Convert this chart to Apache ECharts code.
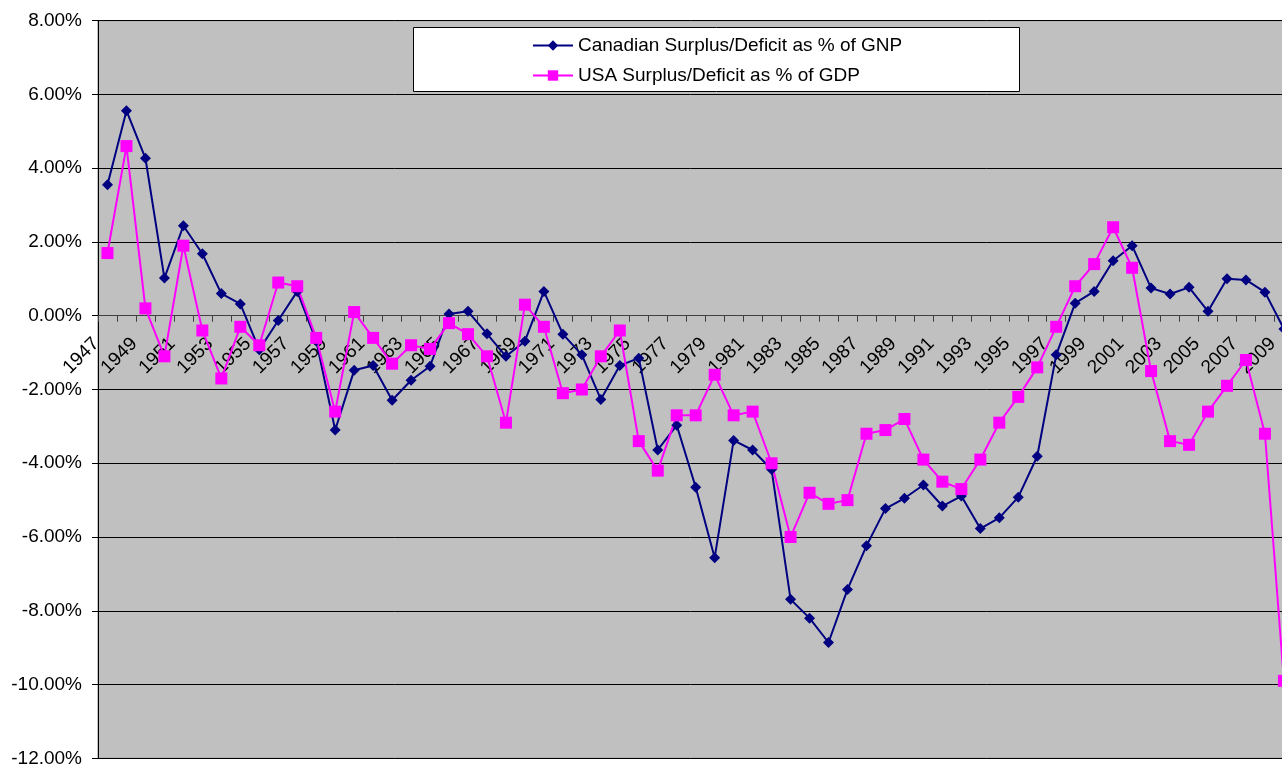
<!DOCTYPE html>
<html>
<head>
<meta charset="utf-8">
<script src="https://cdn.jsdelivr.net/npm/echarts@6/dist/echarts.min.js"></script>
<style>
html,body{margin:0;padding:0;background:#fff;}
#chart{width:1282px;height:766px;}
</style>
</head>
<body>
<div id="chart"></div>
<script>
var years = ['1947','1948','1949','1950','1951','1952','1953','1954','1955','1956','1957','1958','1959',
  '1960','1961','1962','1963','1964','1965','1966','1967','1968','1969','1970','1971','1972','1973','1974',
  '1975','1976','1977','1978','1979','1980','1981','1982','1983','1984','1985','1986','1987','1988','1989',
  '1990','1991','1992','1993','1994','1995','1996','1997','1998','1999','2000','2001','2002','2003','2004',
  '2005','2006','2007','2008','2009'];

var canadaName = 'Canadian Surplus/Deficit as % of GNP';
var usaName = 'USA Surplus/Deficit as % of GDP';

var canada = [3.55, 5.56, 4.27, 1.02, 2.44, 1.68, 0.60, 0.32, -0.92, -0.13, 0.66, -0.68, -3.10,
  -1.48, -1.35, -2.29, -1.75, -1.37, 0.05, 0.12, -0.49, -1.10, -0.69, 0.66, -0.50, -1.06, -2.27, -1.35,
  -1.15, -3.64, -2.97, -4.65, -6.56, -3.38, -3.64, -4.17, -7.69, -8.20, -8.86, -7.42, -6.24, -5.23, -4.95,
  -4.59, -5.16, -4.89, -5.77, -5.48, -4.92, -3.81, -1.06, 0.34, 0.66, 1.49, 1.90, 0.75, 0.59, 0.77,
  0.12, 1.00, 0.97, 0.64, -0.36];

var usa = [1.70, 4.60, 0.20, -1.10, 1.90, -0.40, -1.70, -0.30, -0.80, 0.90, 0.80, -0.60, -2.60,
  0.10, -0.60, -1.30, -0.80, -0.90, -0.20, -0.50, -1.10, -2.90, 0.30, -0.30, -2.10, -2.00, -1.10, -0.40,
  -3.40, -4.20, -2.70, -2.70, -1.60, -2.70, -2.60, -4.00, -6.00, -4.80, -5.10, -5.00, -3.20, -3.10, -2.80,
  -3.90, -4.50, -4.70, -3.90, -2.90, -2.20, -1.40, -0.30, 0.80, 1.40, 2.40, 1.30, -1.50, -3.40, -3.50,
  -2.60, -1.90, -1.20, -3.20, -9.90];

var yMin = -12, yMax = 8, yStep = 2;

var FONT = '"Liberation Sans", Arial, sans-serif';
var gridTop = 20.7, gridHeight = 737.6;
// distance from the grid bottom up to the zero line
var zeroOffset = gridHeight * (0 - yMin) / (yMax - yMin);

var chart = echarts.init(document.getElementById('chart'), null, {renderer: 'canvas'});
chart.setOption({
  animation: false,
  backgroundColor: '#ffffff',
  textStyle: {fontFamily: FONT},
  grid: {
    left: 98, top: gridTop, width: 1195.4, height: gridHeight,
    show: true, backgroundColor: '#C0C0C0', borderColor: '#808080', borderWidth: 1,
    containLabel: false, outerBoundsMode: 'none'
  },
  graphic: [{
    type: 'rect', left: 413, top: 27, z: 3,
    shape: {width: 606, height: 64},
    style: {fill: '#ffffff', stroke: '#000000', lineWidth: 1}
  }],
  legend: {
    orient: 'vertical', left: 527, top: 31, z: 5,
    itemWidth: 40, itemHeight: 13, itemGap: 11,
    textStyle: {fontFamily: FONT, fontSize: 19, color: '#000'},
    data: [canadaName, usaName]
  },
  xAxis: {
    type: 'category', data: years, boundaryGap: true, position: 'bottom',
    offset: -zeroOffset,
    axisLine: {onZero: false, lineStyle: {color: '#404040', width: 1}},
    axisTick: {show: true, interval: 0, length: 6, lineStyle: {color: '#404040'}},
    axisLabel: {
      interval: 1, rotate: 45, margin: 14, fontSize: 19, color: '#000', fontFamily: FONT,
      formatter: function (v) { return v + '   '; }
    },
    splitLine: {show: false}
  },
  yAxis: {
    type: 'value', min: yMin, max: yMax, interval: yStep,
    axisLine: {show: true, lineStyle: {color: '#000', width: 1}},
    axisTick: {show: true, length: 6, lineStyle: {color: '#000'}},
    axisLabel: {
      margin: 16, fontSize: 19, color: '#000', fontFamily: FONT,
      formatter: function (v) { return v.toFixed(2) + '%'; }
    },
    splitLine: {show: true, lineStyle: {color: '#000', width: 1}}
  },
  series: [{
    name: canadaName, type: 'line', data: canada,
    symbol: 'diamond', symbolSize: 11,
    lineStyle: {color: '#000080', width: 2},
    itemStyle: {color: '#000080'},
    z: 2
  }, {
    name: usaName, type: 'line', data: usa,
    symbol: 'rect', symbolSize: 12,
    lineStyle: {color: '#FF00FF', width: 2},
    itemStyle: {color: '#FF00FF'},
    z: 2
  }]
});
</script>
</body>
</html>
